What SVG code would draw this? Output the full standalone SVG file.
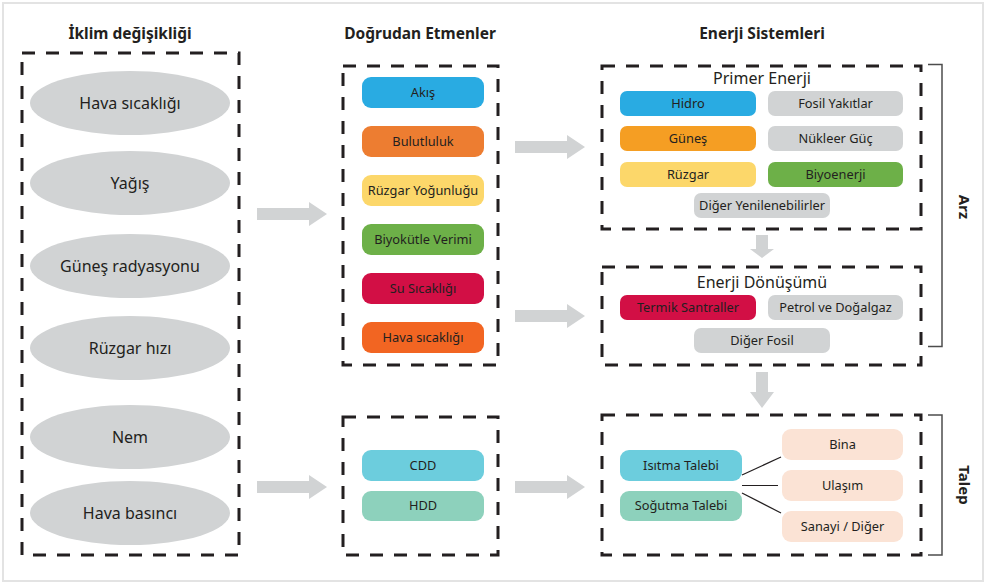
<svg xmlns="http://www.w3.org/2000/svg" width="986" height="584" viewBox="0 0 986 584">
<style>
text{font-family:"Noto Sans","Liberation Sans",sans-serif;fill:#231F20;text-anchor:middle}
.title{font-size:15.5px;font-weight:bold}
.side{font-size:15px;font-weight:bold}
.sub{font-size:16px}
.el{font-size:16px}
.pl{font-size:12.8px}
.dash{fill:none;stroke:#231F20;stroke-width:3;stroke-dasharray:13 11}
.ell{fill:#D1D3D4}
.arrow{fill:#D1D3D4}
.gray{fill:#D1D3D4}
.brk{fill:none;stroke:#4D4D4D;stroke-width:1.5}
.ln{stroke:#231F20;stroke-width:1.2}
</style>
<rect x="3" y="3" width="980" height="578" fill="#fff" stroke="#E3E3E3" stroke-width="2"/>

<text class="title" x="130" y="39">İklim değişikliği</text>
<text class="title" x="420" y="39">Doğrudan Etmenler</text>
<text class="title" x="762" y="39">Enerji Sistemleri</text>

<g id="iklim-box">
<rect class="dash" x="22" y="53" width="217" height="502"/>
</g>
<g id="n-hava-sicakligi"><ellipse class="ell" cx="130" cy="103" rx="100" ry="32"/><text class="el" x="130" y="108.5">Hava sıcaklığı</text></g>
<g id="n-yagis"><ellipse class="ell" cx="130" cy="183" rx="100" ry="32"/><text class="el" x="130" y="188.5">Yağış</text></g>
<g id="n-gunes-radyasyonu"><ellipse class="ell" cx="130" cy="266" rx="100" ry="32"/><text class="el" x="130" y="271.5">Güneş radyasyonu</text></g>
<g id="n-ruzgar-hizi"><ellipse class="ell" cx="130" cy="348" rx="100" ry="32"/><text class="el" x="130" y="353.5">Rüzgar hızı</text></g>
<g id="n-nem"><ellipse class="ell" cx="130" cy="437" rx="100" ry="32"/><text class="el" x="130" y="442.5">Nem</text></g>
<g id="n-hava-basinci"><ellipse class="ell" cx="130" cy="513" rx="100" ry="32"/><text class="el" x="130" y="518.5">Hava basıncı</text></g>

<g id="etmen-box"><rect class="dash" x="343" y="66" width="155" height="299"/></g>
<g id="n-akis"><rect x="362" y="77" width="122" height="31" rx="9" fill="#29ABE2"/><text class="pl" x="423" y="97">Akış</text></g>
<g id="n-bulutluluk"><rect x="362" y="126" width="122" height="31" rx="9" fill="#ED7D31"/><text class="pl" x="423" y="146">Bulutluluk</text></g>
<g id="n-ruzgar-yogunlugu"><rect x="362" y="175" width="122" height="31" rx="9" fill="#FCD76A"/><text class="pl" x="423" y="195">Rüzgar Yoğunluğu</text></g>
<g id="n-biyokutle"><rect x="362" y="224" width="122" height="31" rx="9" fill="#6DB048"/><text class="pl" x="423" y="244">Biyokütle Verimi</text></g>
<g id="n-su-sicakligi"><rect x="362" y="273" width="122" height="31" rx="9" fill="#D20F45"/><text class="pl" x="423" y="293">Su Sıcaklığı</text></g>
<g id="n-hava-sicakligi-2"><rect x="362" y="322" width="122" height="31" rx="9" fill="#F26522"/><text class="pl" x="423" y="342">Hava sıcaklığı</text></g>

<g id="dd-box"><rect class="dash" x="343" y="417" width="155" height="138"/></g>
<g id="n-cdd"><rect x="362" y="450" width="122" height="31" rx="9" fill="#6CCDDD"/><text class="pl" x="423" y="470">CDD</text></g>
<g id="n-hdd"><rect x="362" y="491" width="122" height="30" rx="9" fill="#8DD1BC"/><text class="pl" x="423" y="510">HDD</text></g>

<g id="primer-box">
<rect class="dash" x="602" y="66" width="319" height="163"/>
<text class="sub" x="762" y="84">Primer Enerji</text>
</g>
<g id="n-hidro"><rect x="620" y="91" width="136" height="25" rx="7" fill="#29ABE2"/><text class="pl" x="688" y="108">Hidro</text></g>
<g id="n-fosil-yakitlar"><rect class="gray" x="768" y="91" width="135" height="25" rx="7"/><text class="pl" x="835.5" y="108">Fosil Yakıtlar</text></g>
<g id="n-gunes"><rect x="620" y="126" width="136" height="25" rx="7" fill="#F59E23"/><text class="pl" x="688" y="143">Güneş</text></g>
<g id="n-nukleer"><rect class="gray" x="768" y="126" width="135" height="25" rx="7"/><text class="pl" x="835.5" y="143">Nükleer Güç</text></g>
<g id="n-ruzgar"><rect x="620" y="162" width="136" height="25" rx="7" fill="#FCD76A"/><text class="pl" x="688" y="179">Rüzgar</text></g>
<g id="n-biyoenerji"><rect x="768" y="162" width="135" height="25" rx="7" fill="#6DB048"/><text class="pl" x="835.5" y="179">Biyoenerji</text></g>
<g id="n-diger-yenilenebilir"><rect class="gray" x="694" y="193" width="136" height="25" rx="7"/><text class="pl" x="762" y="210">Diğer Yenilenebilirler</text></g>

<g id="donusum-box">
<rect class="dash" x="602" y="267" width="319" height="98"/>
<text class="sub" x="762" y="288">Enerji Dönüşümü</text>
</g>
<g id="n-termik"><rect x="620" y="295" width="136" height="25" rx="7" fill="#D20F45"/><text class="pl" x="688" y="312">Termik Santraller</text></g>
<g id="n-petrol"><rect class="gray" x="768" y="295" width="135" height="25" rx="7"/><text class="pl" x="835.5" y="312">Petrol ve Doğalgaz</text></g>
<g id="n-diger-fosil"><rect class="gray" x="694" y="328" width="136" height="25" rx="7"/><text class="pl" x="762" y="345">Diğer Fosil</text></g>

<g id="talep-box"><rect class="dash" x="602" y="415" width="319" height="140"/></g>
<g id="n-isitma"><rect x="620" y="450" width="122" height="31" rx="9" fill="#6CCDDD"/><text class="pl" x="681" y="470">Isıtma Talebi</text></g>
<g id="n-sogutma"><rect x="620" y="491" width="122" height="30" rx="9" fill="#8DD1BC"/><text class="pl" x="681" y="510">Soğutma Talebi</text></g>
<g id="n-bina"><rect x="782" y="429" width="121" height="31" rx="9" fill="#FBE3D5"/><text class="pl" x="842.5" y="449">Bina</text></g>
<g id="n-ulasim"><rect x="782" y="470" width="121" height="31" rx="9" fill="#FBE3D5"/><text class="pl" x="842.5" y="490">Ulaşım</text></g>
<g id="n-sanayi"><rect x="782" y="511" width="121" height="31" rx="9" fill="#FBE3D5"/><text class="pl" x="842.5" y="531">Sanayi / Diğer</text></g>

<g id="connectors">
<polygon class="arrow" points="257,208 309,208 309,202 327,214 309,226 309,220 257,220"/>
<polygon class="arrow" points="257,481 309,481 309,475 327,487 309,499 309,493 257,493"/>
<polygon class="arrow" points="515,141 567,141 567,135 585,147 567,159 567,153 515,153"/>
<polygon class="arrow" points="515,310 567,310 567,304 585,316 567,328 567,322 515,322"/>
<polygon class="arrow" points="515,481 567,481 567,475 585,487 567,499 567,493 515,493"/>
<polygon class="arrow" points="756,235 768,235 768,249 774,249 762,258 750,249 756,249"/>
<polygon class="arrow" points="756,372 768,372 768,392 774,392 762,408 750,392 756,392"/>
<line class="ln" x1="742" y1="475" x2="781" y2="457"/>
<line class="ln" x1="742" y1="485.5" x2="778" y2="485.5"/>
<line class="ln" x1="742" y1="493" x2="781" y2="513"/>
<path class="brk" d="M928,64.5 H942 V346.5 H928"/>
<path class="brk" d="M928,415 H942 V555 H928"/>
</g>

<text class="side" transform="translate(959,207) rotate(90)" x="0" y="0">Arz</text>
<text class="side" transform="translate(959,485) rotate(90)" x="0" y="0">Talep</text>
</svg>
